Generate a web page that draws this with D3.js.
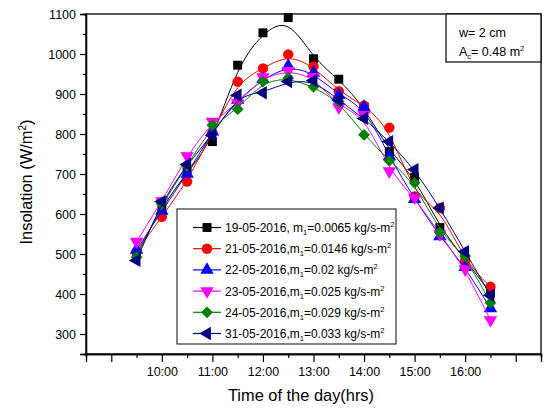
<!DOCTYPE html>
<html>
<head>
<meta charset="utf-8">
<script src="https://cdn.jsdelivr.net/npm/d3@7"></script>
<style>
body { margin: 0; background: #fff; }
svg text { font-family: "Liberation Sans", Arial, sans-serif; fill: #000; }
</style>
</head>
<body>
<svg id="chart" width="546" height="409"></svg>
<script>

// time of day in hours (09:30 ... 16:30)
var hours = [9.5, 10, 10.5, 11, 11.5, 12, 12.5, 13, 13.5, 14, 14.5, 15, 15.5, 16, 16.5];
var majorTicks = [9, 10, 11, 12, 13, 14, 15, 16, 17];
var minorTicks = [8.5, 9.5, 10.5, 11.5, 12.5, 13.5, 14.5, 15.5, 16.5, 17.5];
var tickLabels = ["", "10:00", "11:00", "12:00", "13:00", "14:00", "15:00", "16:00", ""];
var yTicks = [300, 400, 500, 600, 700, 800, 900, 1000, 1100];
var yMinor = [250, 350, 450, 550, 650, 750, 850, 950, 1050];

// insolation (W/m2) per day
var ins19 = [500, 617, 705, 781, 972, 1053, 1091, 988, 937, 868, 756, 692, 566, 487, 402];
var ins21 = [506, 593, 681, 803, 931, 964, 999, 969, 907, 871, 816, 644, 615, 481, 418];
var ins22 = [510, 608, 700, 806, 885, 937, 970, 953, 897, 868, 744, 637, 544, 467, 364];
var ins23 = [531, 632, 745, 831, 877, 942, 958, 943, 867, 848, 707, 641, 550, 462, 335];
var ins24 = [492, 625, 720, 822, 862, 931, 940, 918, 881, 798, 733, 678, 554, 495, 378];
var ins31 = [484, 631, 724, 797, 897, 903, 931, 934, 885, 839, 781, 711, 615, 506, 397];

var datePrefix = ["19-05-2016, m", "21-05-2016,m", "22-05-2016,m", "23-05-2016,m", "24-05-2016,m", "31-05-2016,m"];
var flowRates = ["0.0065", "0.0146", "0.02", "0.025", "0.029", "0.033"];
var colors = ["#000000", "#ff0000", "#0000ff", "#ff00ff", "#008000", "#000080"];

var series = [ins19, ins21, ins22, ins23, ins24, ins31];

var pLeft = 86, pRight = 541, pTop = 14, pBottom = 354;

var svg = d3.select("#chart");

var x = d3.scaleLinear().domain([8.5, 17.5]).range([pLeft, pRight]);
var y = d3.scaleLinear().domain([250, 1100]).range([pBottom, pTop]);

// frame
svg.append("rect")
    .attr("x", pLeft).attr("y", pTop)
    .attr("width", pRight - pLeft).attr("height", pBottom - pTop)
    .attr("fill", "none").attr("stroke", "#000").attr("stroke-width", 1.3);

// x axis
svg.append("g")
    .attr("transform", "translate(0," + pBottom + ")")
    .call(d3.axisBottom(x).tickValues(majorTicks).tickSize(8).tickPadding(5)
        .tickFormat(function(d, i) { return tickLabels[i]; }));
svg.append("g")
    .attr("transform", "translate(0," + pBottom + ")")
    .call(d3.axisBottom(x).tickValues(minorTicks).tickSize(4).tickFormat(""));

// y axis
svg.append("g")
    .attr("transform", "translate(" + pLeft + ",0)")
    .call(d3.axisLeft(y).tickValues(yTicks).tickSize(6).tickPadding(4).tickFormat(d3.format("d")));
svg.append("g")
    .attr("transform", "translate(" + pLeft + ",0)")
    .call(d3.axisLeft(y).tickValues(yMinor).tickSize(3).tickFormat(""));

svg.selectAll(".domain").attr("stroke", "#000").attr("stroke-width", 1.3);
svg.selectAll(".tick line").attr("stroke", "#000").attr("stroke-width", 1.2);
svg.selectAll(".tick text").attr("font-size", 12.5).attr("font-family", "Liberation Sans, Arial, sans-serif");

// axis titles
svg.append("text")
    .attr("x", 301).attr("y", 401)
    .attr("text-anchor", "middle")
    .attr("font-size", 16.4)
    .text("Time of the day(hrs)");

var yt = svg.append("text")
    .attr("transform", "translate(32,182) rotate(-90)")
    .attr("text-anchor", "middle")
    .attr("font-size", 16.4);
yt.append("tspan").text("Insolation (W/m");
yt.append("tspan").attr("font-size", 10).attr("dy", -6).text("2");
yt.append("tspan").attr("dy", 6).text(")");

// markers
var symbols = [
  { type: d3.symbolSquare, size: 80, rot: 0 },
  { type: d3.symbolCircle, size: 85, rot: 0 },
  { type: d3.symbolTriangle, size: 78, rot: 0 },
  { type: d3.symbolTriangle, size: 78, rot: 180 },
  { type: d3.symbolSquare, size: 70, rot: 45 },
  { type: d3.symbolTriangle, size: 78, rot: -90 }
];

var line = d3.line()
    .x(function(d, i) { return x(hours[i]); })
    .y(function(d) { return y(d); })
    .curve(d3.curveBasis);

series.forEach(function(vals, k) {
  svg.append("path")
      .datum(vals)
      .attr("d", line)
      .attr("fill", "none")
      .attr("stroke", colors[k])
      .attr("stroke-width", 1);

  svg.append("g").selectAll("path")
      .data(vals)
      .enter()
      .append("path")
        .attr("d", d3.symbol().type(symbols[k].type).size(symbols[k].size))
        .attr("transform", function(d, i) {
          return "translate(" + x(hours[i]) + "," + y(d) + ") rotate(" + symbols[k].rot + ")";
        })
        .attr("fill", colors[k]);
});

// legend
var lg = svg.append("g");
lg.append("rect")
    .attr("x", 177).attr("y", 209)
    .attr("width", 219).attr("height", 135)
    .attr("fill", "#fff").attr("stroke", "#333").attr("stroke-width", 1.2);

series.forEach(function(vals, k) {
  var cy = 227.5 + k * 21.2;
  lg.append("line")
      .attr("x1", 193).attr("x2", 221).attr("y1", cy).attr("y2", cy)
      .attr("stroke", colors[k]).attr("stroke-width", 1.2);
  lg.append("path")
      .attr("d", d3.symbol().type(symbols[k].type).size(symbols[k].size))
      .attr("transform", "translate(207," + cy + ") rotate(" + symbols[k].rot + ")")
      .attr("fill", colors[k]);
  var t = lg.append("text")
      .attr("x", 225).attr("y", cy + 4.5)
      .attr("font-size", 12);
  t.append("tspan").text(datePrefix[k]);
  t.append("tspan").attr("font-size", 7.5).attr("dy", 3).text("1");
  t.append("tspan").attr("dy", -3).text("=" + flowRates[k] + " kg/s-m");
  t.append("tspan").attr("font-size", 7.5).attr("dy", -5).text("2");
});

// info box
var ib = svg.append("g");
ib.append("rect")
    .attr("x", 446).attr("y", pTop)
    .attr("width", pRight - 446).attr("height", 48)
    .attr("fill", "#fff").attr("stroke", "#000").attr("stroke-width", 1.2);
ib.append("text").attr("x", 459).attr("y", 37).attr("font-size", 12.5).text("w= 2 cm");
var ac = ib.append("text").attr("x", 459).attr("y", 56).attr("font-size", 12.5);
ac.append("tspan").text("A");
ac.append("tspan").attr("font-size", 7.5).attr("dy", 3).text("c");
ac.append("tspan").attr("dy", -3).text("= 0.48 m");
ac.append("tspan").attr("font-size", 7.5).attr("dy", -5).text("2");

</script>
</body>
</html>
